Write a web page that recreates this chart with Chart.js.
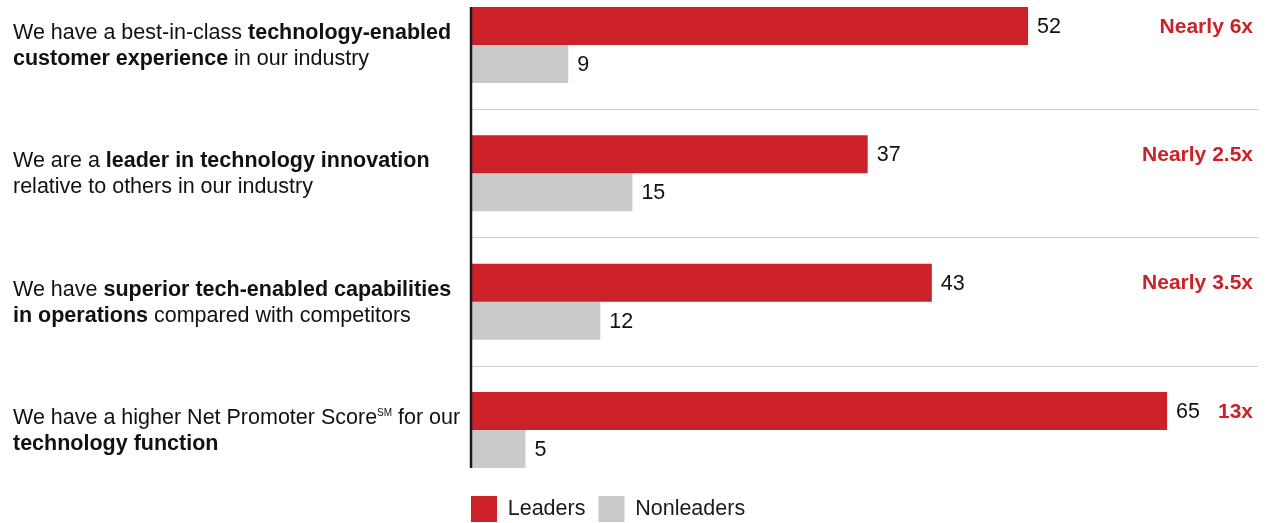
<!DOCTYPE html>
<html>
<head>
<meta charset="utf-8">
<script src="https://cdn.jsdelivr.net/npm/chart.js@4.4.1/dist/chart.umd.min.js"></script>
<style>
  html, body { margin: 0; padding: 0; background: #fff; overflow: hidden; }
  canvas { display: block; }
</style>
</head>
<body>
<canvas id="techChart" width="1267" height="540"></canvas>
<script>
// ** marks bold runs, ^ marks superscript, | breaks the line
const categories = [
    'We have a best-in-class **technology-enabled**|**customer experience** in our industry',
    'We are a **leader in technology innovation**|relative to others in our industry',
    'We have **superior tech-enabled capabilities**|**in operations** compared with competitors',
    'We have a higher Net Promoter Score^SM^ for our|**technology function**'
];
const leaders = [52, 37, 43, 65];
const nonleaders = [9, 15, 12, 5];
const multiples = ['Nearly 6x', 'Nearly 2.5x', 'Nearly 3.5x', '13x'];

const RED = '#cc2129';
const GREY = '#cacaca';
const FONT = '"Liberation Sans", Arial, Helvetica, sans-serif';
const SIZE = 21.5;

Chart.defaults.font.family = FONT;

function parseRuns(line) {
    return line.split(/(\*\*[^*]+\*\*|\^[^^]+\^)/).filter(s => s.length).map(s => {
        if (s.startsWith('**')) return { text: s.slice(2, -2), style: 'bold' };
        if (s.startsWith('^')) return { text: s.slice(1, -1), style: 'sup' };
        return { text: s, style: 'normal' };
    });
}

// left-hand statements, drawn with mixed weights
const statementLabels = {
    id: 'statementLabels',
    afterDraw(chart) {
        const ctx = chart.ctx;
        const yScale = chart.scales.y;
        ctx.save();
        ctx.fillStyle = '#111';
        ctx.textBaseline = 'alphabetic';
        ctx.textAlign = 'left';
        categories.forEach((cat, i) => {
            const cy = yScale.getPixelForValue(i);
            cat.split('|').forEach((line, j) => {
                let x = 13;
                const base = cy - 6 + j * 26;
                parseRuns(line).forEach(run => {
                    if (run.style === 'sup') {
                        ctx.font = '10px ' + FONT;
                        ctx.fillText(run.text, x, base - 8);
                    } else {
                        ctx.font = (run.style === 'bold' ? 'bold ' : '') + SIZE + 'px ' + FONT;
                        ctx.fillText(run.text, x, base);
                    }
                    x += ctx.measureText(run.text).width;
                });
            });
        });
        ctx.restore();
    }
};

// separators between groups, axis line, value and multiple labels
const barDecor = {
    id: 'barDecor',
    beforeDatasetsDraw(chart) {
        const ctx = chart.ctx;
        const yScale = chart.scales.y;
        const area = chart.chartArea;
        ctx.save();
        ctx.strokeStyle = '#cfcfcf';
        ctx.lineWidth = 1;
        for (let i = 0; i < categories.length - 1; i++) {
            const y = Math.round((yScale.getPixelForValue(i) + yScale.getPixelForValue(i + 1)) / 2) + 0.5;
            ctx.beginPath();
            ctx.moveTo(area.left, y);
            ctx.lineTo(area.right, y);
            ctx.stroke();
        }
        ctx.restore();
    },
    afterDatasetsDraw(chart) {
        const ctx = chart.ctx;
        const area = chart.chartArea;
        const first = chart.getDatasetMeta(0).data[0].getProps(['y', 'height'], true);
        const lastMeta = chart.getDatasetMeta(1).data;
        const last = lastMeta[lastMeta.length - 1].getProps(['y', 'height'], true);
        ctx.save();
        ctx.strokeStyle = '#1a1a1a';
        ctx.lineWidth = 2.5;
        ctx.beginPath();
        ctx.moveTo(area.left - 1, first.y - first.height / 2);
        ctx.lineTo(area.left - 1, last.y + last.height / 2);
        ctx.stroke();

        ctx.textBaseline = 'middle';
        ctx.font = SIZE + 'px ' + FONT;
        ctx.fillStyle = '#111';
        chart.data.datasets.forEach((ds, d) => {
            chart.getDatasetMeta(d).data.forEach((bar, i) => {
                const p = bar.getProps(['x', 'y'], true);
                ctx.textAlign = 'left';
                ctx.fillText(String(ds.data[i]), p.x + 9, p.y + 1);
            });
        });

        ctx.font = 'bold 21px ' + FONT;
        ctx.fillStyle = RED;
        ctx.textAlign = 'right';
        chart.getDatasetMeta(0).data.forEach((bar, i) => {
            const p = bar.getProps(['y'], true);
            ctx.fillText(multiples[i], area.right - 5, p.y + 1);
        });
        ctx.restore();
    }
};

const ctx = document.getElementById('techChart').getContext('2d');

const techChart = new Chart(ctx, {
    type: 'bar',
    data: {
        labels: categories,
        datasets: [{
            label: 'Leaders',
            data: leaders,
            backgroundColor: RED,
            categoryPercentage: 0.592,
            barPercentage: 1.0,
            clip: false
        }, {
            label: 'Nonleaders',
            data: nonleaders,
            backgroundColor: GREY,
            categoryPercentage: 0.592,
            barPercentage: 1.0,
            clip: false
        }]
    },
    options: {
        indexAxis: 'y',
        responsive: false,
        animation: false,
        events: [],
        layout: {
            padding: { top: 45, left: 458, right: 9, bottom: 8 }
        },
        scales: {
            x: {
                min: 0,
                max: 73.5,
                ticks: { display: false },
                grid: { display: false },
                border: { display: false },
                afterFit(scale) { scale.height = 53; }
            },
            y: {
                type: 'category',
                offset: false,
                ticks: { display: false },
                grid: { display: false },
                border: { display: false },
                afterFit(scale) { scale.width = 14; }
            }
        },
        plugins: {
            legend: {
                position: 'bottom',
                align: 'start',
                labels: {
                    boxWidth: 26,
                    boxHeight: 26,
                    padding: 13,
                    color: '#1a1a1a',
                    font: { size: SIZE }
                }
            },
            tooltip: { enabled: false },
            title: { display: false }
        }
    },
    plugins: [statementLabels, barDecor]
});
</script>
</body>
</html>
